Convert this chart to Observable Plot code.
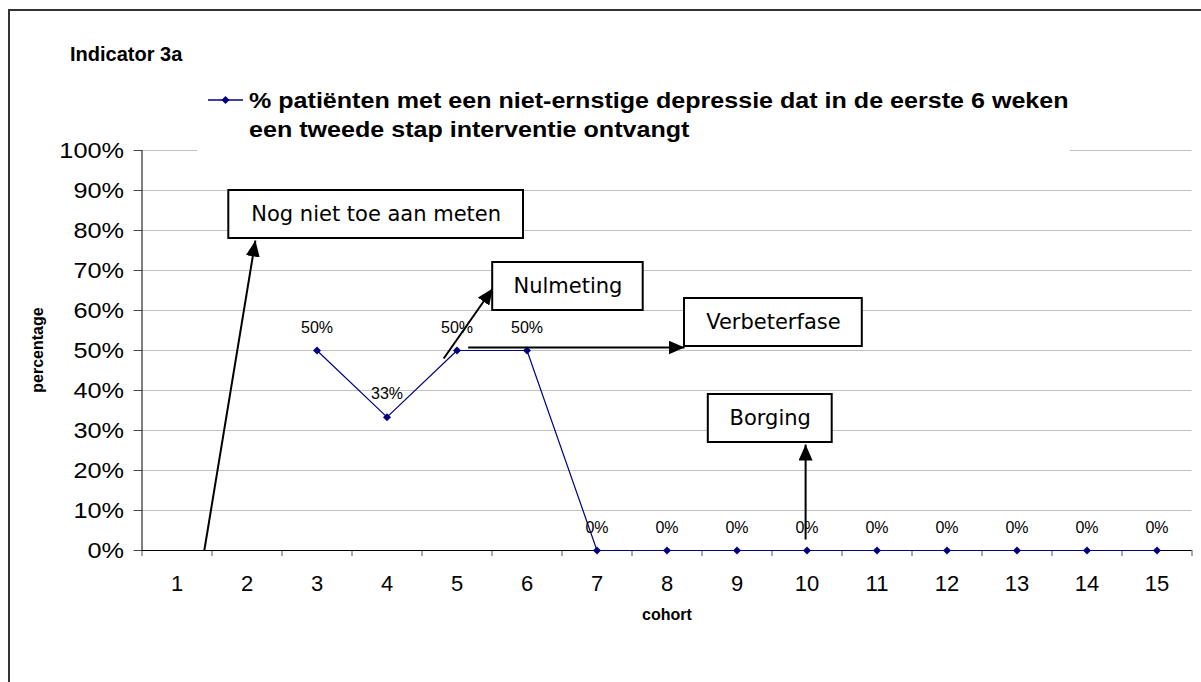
<!DOCTYPE html>
<html><head><meta charset="utf-8">
<script src="https://cdn.jsdelivr.net/npm/d3@7"></script>
<script src="https://cdn.jsdelivr.net/npm/@observablehq/plot@0.6"></script>
<style>
body{margin:0;background:#fff;}
#wrap{position:relative;width:1201px;height:682px;overflow:hidden;font-family:"Liberation Sans",Arial,sans-serif;}
#frame{position:absolute;left:8px;top:9px;width:1300px;height:800px;border:2px solid #333;pointer-events:none;}
#title{position:absolute;left:70px;top:44px;font-weight:bold;font-size:20px;line-height:20px;color:#000;}
#legend{position:absolute;left:197px;top:82px;width:873px;height:70px;background:#fff;}
#legend svg{position:absolute;left:11px;top:10px;}
#legtext{position:absolute;left:52px;top:4px;font-weight:bold;font-size:22px;line-height:29px;color:#000;white-space:nowrap;transform:scaleX(1.14);transform-origin:0 0;}
#ylab{position:absolute;left:38px;top:350px;transform:translate(-50%,-50%) rotate(-90deg);font-weight:bold;font-size:16px;white-space:nowrap;}
#xlab{position:absolute;left:667px;top:615px;transform:translate(-50%,-50%);font-weight:bold;font-size:16px;white-space:nowrap;}
#chart{position:absolute;left:0;top:0;}
</style></head>
<body>
<div id="wrap">
  <div id="chart"></div>
  <div id="frame"></div>
  <div id="title"></div>
  <div id="legend">
    <svg width="40" height="16"><line x1="0" y1="8" x2="35" y2="8" stroke="#000080" stroke-width="1.5"/><path d="M17.5,4L21.5,8L17.5,12L13.5,8Z" fill="#000080"/></svg>
    <div id="legtext"></div>
  </div>
  <div id="ylab"></div>
  <div id="xlab"></div>
</div>
<script>
// ---- data ----
const titleText = "Indicator 3a";
const seriesName = ["% patiënten met een niet-ernstige depressie dat in de eerste 6 weken", "een tweede stap interventie ontvangt"];
const yTitle = "percentage";
const xTitle = "cohort";
const cohorts = [1,2,3,4,5,6,7,8,9,10,11,12,13,14,15];
const values = [null,null,50,33.33,50,50,0,0,0,0,0,0,0,0,0];
const valueLabels = ["","","50%","33%","50%","50%","0%","0%","0%","0%","0%","0%","0%","0%","0%"];
const yTicks = [0,10,20,30,40,50,60,70,80,90,100];
const xTickLabels = ["1","2","3","4","5","6","7","8","9","10","11","12","13","14","15"];
const xBoundaries = [0.5,1.5,2.5,3.5,4.5,5.5,6.5,7.5,8.5,9.5,10.5,11.5,12.5,13.5,14.5,15.5];

// annotation boxes (cohort units / percent)
const boxLabels = ["Nog niet toe aan meten","Nulmeting","Verbeterfase","Borging"];
const boxX1 = [1.74, 5.51, 8.25, 8.59];
const boxX2 = [5.95, 7.66, 10.79, 10.36];
const boxYTop = [90, 72, 63, 39];
const boxYBottom = [78, 60, 51, 27];
// annotation arrows
const arrowX1 = [1.39, 4.81, 5.16, 9.98];
const arrowY1 = [0, 48, 50.75, 2.75];
const arrowX2 = [2.12, 5.51, 8.25, 9.98];
const arrowY2 = [77.5, 65.5, 50.75, 26.5];

// ---- build ----
document.getElementById("title").textContent = titleText;
document.getElementById("legtext").innerHTML = seriesName.join("<br>");
document.getElementById("ylab").textContent = yTitle;
document.getElementById("xlab").textContent = xTitle;

const points = cohorts.map((c,i)=>({cohort:c, value:values[i], label:valueLabels[i]})).filter(d=>d.value!=null);
const boxes = boxLabels.map((t,i)=>({label:t, x1:boxX1[i], x2:boxX2[i], y1:boxYBottom[i], y2:boxYTop[i]}));
const arrows = arrowX1.map((x,i)=>({x1:x, y1:arrowY1[i], x2:arrowX2[i], y2:arrowY2[i]}));

function filledArrow(color) {
  const ns = "http://www.w3.org/2000/svg";
  const m = document.createElementNS(ns, "marker");
  m.setAttribute("viewBox", "-16 -7 16 14");
  m.setAttribute("markerWidth", "16");
  m.setAttribute("markerHeight", "14");
  m.setAttribute("markerUnits", "userSpaceOnUse");
  m.setAttribute("orient", "auto");
  m.setAttribute("refX", "0");
  m.setAttribute("refY", "0");
  const p = document.createElementNS(ns, "path");
  p.setAttribute("d", "M-16,-7L0,0L-16,7Z");
  p.setAttribute("fill", color);
  p.setAttribute("stroke", "none");
  m.appendChild(p);
  return m;
}

const chart = Plot.plot({
  width: 1201, height: 682,
  marginLeft: 141.5, marginRight: 9.5, marginTop: 150, marginBottom: 132,
  x: {domain: [0.5, 15.5]},
  y: {domain: [0, 100]},
  style: {fontFamily: "'Liberation Sans', Arial, sans-serif", background: "transparent", color: "#000"},
  marks: [
    Plot.gridY(yTicks, {stroke: "#c0c0c0", strokeOpacity: 1}),
    Plot.axisY({ticks: yTicks, tickSize: 8, tickPadding: 10, tickFormat: d => d + "%", fontSize: 22, label: null, stroke: "#444"}),
    Plot.axisX({ticks: cohorts, tickSize: 0, tickPadding: 25, tickFormat: (d, i) => xTickLabels[i], fontSize: 22, label: null}),
    Plot.axisX({ticks: xBoundaries, tickSize: 6, tickFormat: () => "", label: null, stroke: "#555"}),
    Plot.ruleX([0.5], {stroke: "#000"}),
    Plot.ruleY([0], {stroke: "#000"}),
    Plot.line(points, {x: "cohort", y: "value", stroke: "#000080", strokeWidth: 1.2}),
    Plot.dot(points, {x: "cohort", y: "value", symbol: "diamond2", r: 3.6, fill: "#000080", stroke: "none"}),
    Plot.text(points, {x: "cohort", y: "value", text: "label", dy: -23, fontSize: 16, fill: "#000", ariaLabel: "vlabels"}),
    Plot.link(arrows, {x1: "x1", y1: "y1", x2: "x2", y2: "y2", stroke: "#000", strokeWidth: 2, markerEnd: filledArrow}),
    Plot.rect(boxes, {x1: "x1", x2: "x2", y1: "y1", y2: "y2", fill: "#fff", stroke: "#000", strokeWidth: 2}),
    Plot.text(boxes, {x: d => (d.x1 + d.x2) / 2, y: d => (d.y1 + d.y2) / 2, text: "label", fontSize: 21, fontFamily: "DejaVu Sans", fill: "#000"})
  ]
});
// the reference's text is slightly wider than tall: stretch some labels horizontally about their anchor
function stretch(sel, k) {
  d3.select(chart).selectAll(sel).each(function() {
    const t = this.getAttribute("transform") || "";
    this.setAttribute("transform", (t + ` scale(${k},1)`).trim());
  });
}
stretch('g[aria-label="y-axis tick label"] text', 1.15);
stretch('g[aria-label="vlabels"] text', 1.12);
document.getElementById("chart").appendChild(chart);
</script>
</body></html>
